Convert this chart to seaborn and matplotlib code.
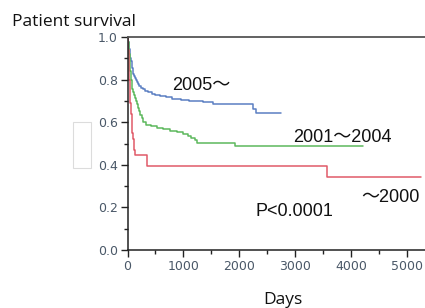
import matplotlib
matplotlib.use("Agg")
import matplotlib.pyplot as plt
import seaborn as sns
import pandas as pd
from matplotlib.ticker import MultipleLocator
from matplotlib.patches import Rectangle

# ---- data ----
blue_days = [0, 5, 12, 20, 28, 36, 45, 53, 62, 72, 82, 93, 105, 118, 132, 148, 165,
             185, 210, 240, 275, 320, 370, 430, 500, 580, 680, 800, 950, 1100, 1350,
             1530, 2250, 2290, 2740]
blue_surv = [1.0, 0.99, 0.975, 0.96, 0.945, 0.93, 0.915, 0.90, 0.885, 0.87, 0.855,
             0.84, 0.828, 0.817, 0.806, 0.796, 0.787, 0.778, 0.77, 0.762, 0.755,
             0.748, 0.741, 0.734, 0.728, 0.722, 0.716, 0.71, 0.705, 0.70, 0.693,
             0.684, 0.66, 0.642, 0.642]

green_days = [0, 10, 20, 30, 40, 50, 60, 72, 85, 100, 115, 130, 148, 165, 185, 205,
              230, 255, 285, 330, 420, 520, 640, 760, 880, 1000, 1080, 1140, 1200,
              1240, 1920, 4210]
green_surv = [1.0, 0.975, 0.95, 0.92, 0.88, 0.84, 0.80, 0.775, 0.755, 0.74, 0.728,
              0.715, 0.70, 0.684, 0.668, 0.652, 0.635, 0.618, 0.60, 0.588, 0.58,
              0.574, 0.567, 0.56, 0.553, 0.545, 0.535, 0.525, 0.515, 0.503, 0.49, 0.49]

red_days = [0, 10, 20, 30, 40, 50, 62, 75, 88, 100, 112, 125, 140, 355, 3570, 5240]
red_surv = [1.0, 0.94, 0.87, 0.80, 0.74, 0.69, 0.64, 0.59, 0.55, 0.52, 0.495, 0.47,
            0.446, 0.394, 0.344, 0.344]

group_labels = ["2005〜", "2001〜2004", "〜2000"]
p_text = "P<0.0001"
x_ticks = [0, 1000, 2000, 3000, 4000, 5000]
y_ticks = [0.0, 0.2, 0.4, 0.6, 0.8, 1.0]

colors = {"2005〜": "#5b7fc2", "2001〜2004": "#5cb85c", "〜2000": "#e05a68"}

df = pd.concat([
    pd.DataFrame({"Days": blue_days, "Survival": blue_surv, "group": group_labels[0]}),
    pd.DataFrame({"Days": green_days, "Survival": green_surv, "group": group_labels[1]}),
    pd.DataFrame({"Days": red_days, "Survival": red_surv, "group": group_labels[2]}),
])

sns.set_style("ticks")
plt.rcParams["font.family"] = ["DejaVu Sans", "Noto Sans CJK JP"]

fig = plt.figure(figsize=(4.25, 3.08), dpi=100)
ax = fig.add_axes([0.3, 0.188, 0.7, 0.692])

for g in group_labels:
    sub = df[df["group"] == g]
    sns.lineplot(data=sub, x="Days", y="Survival", ax=ax, color=colors[g],
                 drawstyle="steps-post", estimator=None, sort=False, lw=1.1,
                 legend=False)

ax.set_xlim(0, 5313)
ax.set_ylim(0, 1.0)
ax.set_xticks(x_ticks)
ax.set_yticks(y_ticks)
ax.set_yticklabels([f"{v:.1f}" for v in y_ticks])
ax.xaxis.set_minor_locator(MultipleLocator(500))
ax.yaxis.set_minor_locator(MultipleLocator(0.1))
tick_col = "#4a5868"
ax.tick_params(axis="both", which="major", direction="out", length=5, width=1,
               color="#222222", labelsize=9, labelcolor=tick_col, pad=2)
ax.tick_params(axis="both", which="minor", direction="out", length=3, width=1,
               color="#222222")
ax.set_xlabel("")
ax.set_ylabel("")
for s in ["left", "bottom"]:
    ax.spines[s].set_color("#222222")
    ax.spines[s].set_linewidth(1.1)
ax.spines["top"].set_color("#555555")
ax.spines["top"].set_linewidth(1.3)
ax.spines["right"].set_visible(False)

fam = ["Liberation Sans", "Noto Sans CJK JP"]
fs = 13
ax.text(201 / 425, 1 - 85 / 308, group_labels[0], transform=fig.transFigure,
        ha="center", va="center", fontsize=fs, family=fam, color="#111111")
ax.text(342 / 425, 1 - 137 / 308, group_labels[1], transform=fig.transFigure,
        ha="center", va="center", fontsize=fs, family=fam, color="#111111")
ax.text(390 / 425, 1 - 198 / 308, group_labels[2], transform=fig.transFigure,
        ha="center", va="center", fontsize=fs, family=fam, color="#111111")
ax.text(294 / 425, 1 - 212 / 308, p_text, transform=fig.transFigure,
        ha="center", va="center", fontsize=fs, family=fam, color="#111111")

fig.text(12 / 425, 1 - 22 / 308, "Patient survival", ha="left", va="center",
         fontsize=12.5, family=["Open Sans"], color="#111111")
fig.text(283 / 425, 1 - 300 / 308, "Days", ha="center", va="center",
         fontsize=12.5, family=["Open Sans"], color="#111111")

fig.patches.append(Rectangle((73 / 425, 1 - 168 / 308), 18 / 425, 46 / 308,
                             transform=fig.transFigure, fill=False,
                             edgecolor="#dcdcdc", lw=0.8))

fig.savefig("out.png", dpi=100)
